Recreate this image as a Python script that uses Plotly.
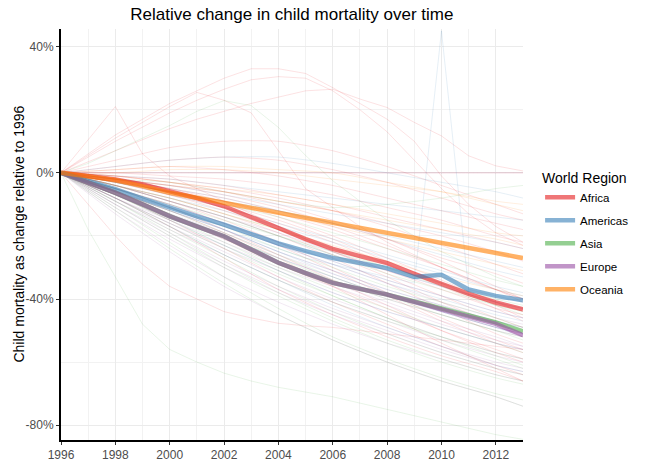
import plotly.graph_objects as go

# ---------------- data ----------------
YEARS = list(range(1996, 2014))
YEARS_BG = [1996, 1998, 2000, 2002, 2004, 2006, 2008, 2010, 2012, 2013]

REGIONS = ["Africa", "Americas", "Asia", "Europe", "Oceania"]

# regional summary lines (% change relative to 1996), yearly 1996..2013
africa_mean = [0, -1.0, -2.1, -3.7, -5.8, -8.0, -10.6, -13.9, -17.5, -21.0, -24.1, -26.4, -28.6, -32.0, -35.3, -38.4, -41.1, -43.3]
americas_mean = [0, -2.6, -5.2, -8.2, -11.1, -13.8, -16.4, -19.4, -22.4, -24.8, -27.0, -28.6, -30.2, -33.0, -32.3, -37.0, -39.0, -40.4]
asia_mean = [0, -3.2, -6.3, -10.0, -13.8, -17.0, -20.1, -24.3, -28.5, -31.8, -34.9, -36.8, -38.6, -40.8, -42.9, -45.2, -47.4, -50.3]
europe_mean = [0, -3.2, -6.3, -10.0, -13.8, -17.0, -20.1, -24.3, -28.5, -31.8, -34.9, -36.8, -38.6, -40.9, -43.1, -45.6, -47.9, -51.5]
oceania_mean = [0, -1.1, -2.3, -4.2, -6.3, -7.9, -9.5, -11.1, -12.7, -14.2, -15.7, -17.3, -18.9, -20.4, -22.0, -23.6, -25.2, -27.0]

# country lines at YEARS_BG
africa_countries = [
    [0, -2, -4, -7, -11, -16, -21, -27, -32, -35],
    [0, -3, -7, -12, -18, -25, -32, -39, -46, -49],
    [0, -4, -9, -15, -22, -30, -38, -46, -53, -56],
    [0, -1, -2, -4, -7, -10, -14, -18, -22, -24],
    [0, 1, 2, 1, -1, -4, -8, -12, -16, -18],
    [0, -5, -11, -18, -26, -34, -42, -50, -57, -60],
    [0, -2, -5, -9, -14, -20, -27, -34, -41, -44],
    [0, -3, -6, -10, -15, -21, -28, -35, -42, -46],
    [0, 2, 4, 5, 4, 1, -3, -8, -13, -15],
    [0, -6, -13, -21, -29, -36, -43, -50, -56, -59],
    [0, -1, -3, -6, -10, -15, -21, -28, -36, -40],
    [0, -4, -8, -13, -19, -26, -33, -41, -48, -52],
    [0, -2, -4, -6, -9, -12, -16, -20, -25, -28],
    [0, -7, -15, -24, -33, -41, -48, -55, -61, -64],
    [0, -3, -7, -11, -16, -22, -29, -36, -43, -47],
    [0, -8, -17, -27, -37, -45, -52, -58, -63, -66],
    [0, 4, 8, 10, 10, 7, 2, -4, -10, -13],
    [0, 0, 0, 0, 0, 0, 0, 0, 0, 0],
    [0, -2, -5, -8, -12, -17, -23, -30, -37, -40],
    [0, -1, -3, -5, -8, -12, -17, -23, -29, -32],
    [0, -5, -10, -16, -23, -31, -39, -47, -54, -57],
    [0, 0, -1, -2, -4, -7, -11, -15, -20, -22],
    [0, -6, -12, -19, -27, -36, -45, -54, -62, -66],
    [0, -4, -9, -14, -20, -27, -35, -43, -51, -54],
    [0, -3, -6, -9, -13, -18, -24, -30, -37, -41],
]
americas_countries = [
    [0, -4, -9, -14, -20, -26, -31, -36, -41, -43],
    [0, -3, -7, -11, -16, -21, -26, -31, -36, -38],
    [0, -5, -11, -17, -23, -29, -35, -40, -45, -47],
    [0, -2, -4, -7, -10, -13, -16, -19, -22, -24],
    [0, -6, -13, -20, -27, -33, -39, -44, -49, -51],
    [0, -4, -8, -12, -17, -22, -27, -32, -37, -39],
    [0, 2, 4, 5, 5, 3, 0, -3, -6, -8],
    [0, -7, -15, -23, -31, -38, -44, -49, -54, -56],
    [0, -3, -6, -9, -12, -16, -20, -24, -28, -30],
    [0, -5, -10, -16, -22, -28, -34, -39, -44, -46],
    [0, -1, -2, -4, -6, -8, -10, -12, -14, -15],
    [0, -6, -12, -18, -25, -32, -38, -44, -49, -52],
    [0, -8, -17, -26, -34, -42, -49, -55, -61, -63],
    [0, -2, -5, -8, -12, -16, -21, -26, -31, -33],
    [0, -5, -11, -18, -25, -31, -37, -42, -47, -49],
]
asia_countries = [
    [0, -6, -13, -20, -27, -34, -40, -45, -50, -52],
    [0, -8, -17, -26, -34, -41, -47, -52, -57, -59],
    [0, -5, -11, -17, -24, -30, -36, -41, -46, -49],
    [0, -9, -19, -29, -38, -46, -53, -59, -64, -66],
    [0, -4, -9, -14, -20, -26, -32, -37, -42, -44],
    [0, -7, -14, -22, -30, -37, -43, -49, -54, -57],
    [0, -3, -6, -10, -14, -19, -24, -29, -34, -36],
    [0, -10, -20, -30, -39, -47, -54, -60, -65, -67],
    [0, -2, -3, -6, -9, -11, -10, -8, -5, -4],
    [0, -6, -12, -19, -26, -33, -39, -45, -50, -53],
    [0, -5, -10, -15, -20, -25, -30, -35, -40, -42],
    [0, -8, -16, -24, -32, -39, -46, -52, -58, -61],
    [0, -11, -22, -33, -43, -52, -59, -65, -70, -72],
    [0, -7, -15, -23, -31, -39, -46, -53, -59, -62],
    [0, -4, -8, -13, -18, -24, -30, -36, -42, -45],
    [0, -9, -18, -27, -36, -44, -51, -57, -62, -64],
    [0, -12, -24, -35, -45, -53, -60, -66, -71, -74],
]
europe_countries = [
    [0, -7, -14, -21, -28, -34, -40, -45, -50, -52],
    [0, -8, -16, -24, -31, -38, -44, -49, -54, -56],
    [0, -6, -12, -18, -25, -31, -37, -42, -47, -49],
    [0, -9, -18, -26, -34, -41, -47, -53, -58, -60],
    [0, -5, -10, -16, -22, -28, -34, -39, -44, -46],
    [0, -10, -20, -29, -37, -44, -50, -56, -61, -63],
    [0, -7, -13, -19, -26, -32, -38, -44, -49, -51],
    [0, -6, -11, -17, -23, -29, -35, -41, -46, -48],
    [0, -11, -21, -30, -38, -45, -51, -57, -62, -64],
    [0, -4, -9, -14, -19, -25, -31, -36, -41, -43],
    [0, -8, -15, -22, -29, -35, -41, -47, -52, -55],
    [0, -12, -23, -33, -41, -48, -54, -59, -64, -66],
    [0, 0, 0, 0, 0, 0, 0, 0, 0, 0],
    [0, -9, -17, -25, -33, -40, -46, -52, -57, -59],
    [0, -13, -25, -36, -45, -53, -60, -66, -71, -74],
    [0, -7, -14, -21, -27, -33, -39, -44, -49, -51],
    [0, -10, -19, -28, -36, -43, -49, -55, -60, -62],
    [0, -8, -16, -23, -30, -36, -42, -48, -53, -55],
]
oceania_countries = [
    [0, -2, -4, -6, -9, -12, -15, -18, -21, -23],
    [0, 0, 1, 1, 0, -2, -4, -6, -9, -10],
    [0, -3, -6, -9, -13, -17, -21, -25, -29, -31],
    [0, 1, 2, 2, 1, 0, -3, -6, -10, -12],
    [0, -4, -8, -13, -18, -23, -28, -33, -37, -39],
    [0, -1, -3, -5, -7, -10, -13, -16, -19, -20],
]

# countries with notable yearly paths (1996..2013)
africa_yearly = [
    [0, 6, 12, 17, 22, 26, 30, 33, 33, 31.5, 27, 22, 17, 10, -1, -10, -17, -22],
    [0, 5, 10, 14.5, 19, 23, 26.5, 29.5, 30.5, 30, 26, 20, 13, 4, -5, -13, -19, -23],
    [0, 3.5, 7, 10.5, 14, 17, 19.5, 22, 24, 26, 26.5, 23.4, 20.7, 16, 11.7, 5.4, 2.2, 0.6],
    [0, 5.5, 11, 16, 21, 25.5, 23, 19, 7, -5, -11, -17, -22, -26, -30, -34, -37, -40],
    [0, 10.5, 21, 6, -1, -5, -9, -13, -17, -21, -25, -28, -31, -34, -37, -40, -43, -45],
    [0, -10, -20, -29, -36, -40, -44, -46, -47.7, -48.5, -49, -50, -51, -52, -53, -54, -55, -56],
]
americas_yearly = [
    [0, -3, -6, -9, -12, -15, -18, -21, -24, -27, -29, -31, -33, -35, 45, -37, -39, -41],
]
asia_yearly = [
    [0, 3, 7, 11, 15, 19.5, 22.9, 21.3, 14.4, 5.5, -2.5, -9, -15, -20, -25, -29, -33, -36],
    [0, -18, -33, -48, -56, -60, -63.5, -66, -68, -69.5, -71, -73, -75, -77, -79, -81, -83, -84.5],
]
europe_yearly = []
oceania_yearly = []

Y_TICKS = [40, 0, -40, -80]
Y_TICK_TEXT = ["40%", "0%", "-40%", "-80%"]
Y_MINOR = [20, -20, -60]
X_TICKS = [1996, 1998, 2000, 2002, 2004, 2006, 2008, 2010, 2012]

# ---------------- styling ----------------
RGB = {
    "Africa": (228, 26, 28),
    "Americas": (55, 126, 184),
    "Asia": (77, 175, 74),
    "Europe": (152, 78, 163),
    "Oceania": (255, 127, 0),
}


def rgba(region, a):
    r, g, b = RGB[region]
    return f"rgba({r},{g},{b},{a})"


means = {
    "Africa": africa_mean, "Americas": americas_mean, "Asia": asia_mean,
    "Europe": europe_mean, "Oceania": oceania_mean,
}
countries = {
    "Africa": africa_countries, "Americas": americas_countries, "Asia": asia_countries,
    "Europe": europe_countries, "Oceania": oceania_countries,
}
yearly = {
    "Africa": africa_yearly, "Americas": americas_yearly, "Asia": asia_yearly,
    "Europe": europe_yearly, "Oceania": oceania_yearly,
}

fig = go.Figure()

BG_ALPHA = 0.16
for reg in REGIONS:
    for vals in countries[reg]:
        fig.add_trace(go.Scatter(
            x=YEARS_BG, y=vals, mode="lines", showlegend=False, hoverinfo="skip",
            line=dict(color=rgba(reg, BG_ALPHA), width=0.8, shape="spline", smoothing=0.6),
        ))
    for vals in yearly[reg]:
        fig.add_trace(go.Scatter(
            x=YEARS, y=vals, mode="lines", showlegend=False, hoverinfo="skip",
            line=dict(color=rgba(reg, BG_ALPHA), width=0.8),
        ))

for reg in REGIONS:
    fig.add_trace(go.Scatter(
        x=YEARS, y=means[reg], mode="lines", name=reg, legendgroup=reg,
        line=dict(color=rgba(reg, 0.6), width=4.5),
    ))

FONT = "Liberation Sans, Arial, sans-serif"
fig.update_layout(
    width=650, height=464,
    margin=dict(l=61, r=127, t=29, b=24, autoexpand=False),
    paper_bgcolor="white", plot_bgcolor="white",
    font=dict(family=FONT, color="#000000"),
    title=dict(text="Relative change in child mortality over time", x=0.449, xanchor="center",
               y=0.970, yanchor="middle", font=dict(size=17, color="#000000")),
    showlegend=True,
    legend=dict(
        title=dict(text="World Region", font=dict(size=14, color="#000000")),
        font=dict(size=11.5, color="#000000"),
        x=1.037, xanchor="left", y=0.5, yanchor="middle",
        traceorder="grouped", tracegroupgap=4, itemwidth=30,
        bgcolor="rgba(0,0,0,0)",
    ),
    xaxis=dict(
        range=[1996, 2013], tickmode="array", tickvals=X_TICKS,
        ticktext=[str(v) for v in X_TICKS],
        showgrid=True, gridcolor="#EBEBEB", gridwidth=1,
        minor=dict(dtick=1, tick0=1996, showgrid=True, gridcolor="#F2F2F2", gridwidth=1),
        showline=True, linecolor="#000000", linewidth=2,
        ticks="outside", ticklen=3, tickcolor="#333333", tickwidth=1,
        tickfont=dict(size=12, color="#4D4D4D"), zeroline=False, automargin=False,
    ),
    yaxis=dict(
        range=[-84.7, 45.6], tickmode="array", tickvals=Y_TICKS, ticktext=Y_TICK_TEXT,
        showgrid=True, gridcolor="#EBEBEB", gridwidth=1,
        minor=dict(tickmode="array", tickvals=Y_MINOR, showgrid=True,
                   gridcolor="#F2F2F2", gridwidth=1),
        showline=True, linecolor="#000000", linewidth=2,
        ticks="outside", ticklen=3, tickcolor="#333333", tickwidth=1,
        tickfont=dict(size=12, color="#4D4D4D"), zeroline=False, automargin=False,
    ),
    annotations=[dict(
        text="Child mortality as change relative to 1996", textangle=-90,
        xref="paper", yref="paper", x=-0.093, y=0.5, xanchor="center", yanchor="middle",
        showarrow=False, font=dict(size=14, color="#000000"),
    )],
)

# remove the browser's default 8px page margin so the figure sits at the window origin
fig.write_html("out.html", config={"displayModeBar": False},
               post_script="document.body.style.margin='0';")
